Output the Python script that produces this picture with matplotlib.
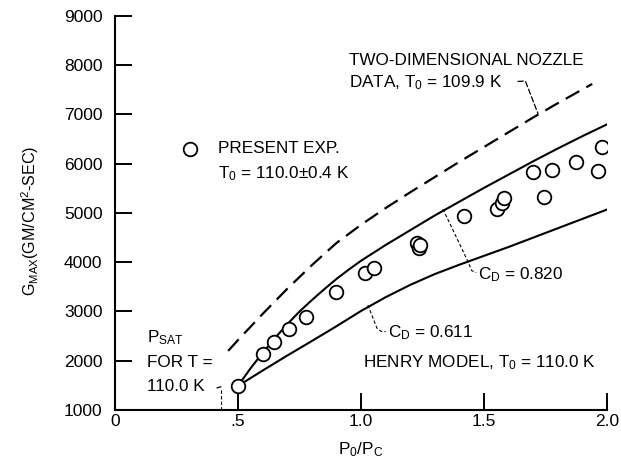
import matplotlib
matplotlib.use('Agg')
import matplotlib.pyplot as plt

plt.rcParams['font.family'] = ['Liberation Sans', 'DejaVu Sans']
plt.rcParams['mathtext.fontset'] = 'custom'
plt.rcParams['mathtext.rm'] = 'Liberation Sans'
plt.rcParams['mathtext.default'] = 'regular'

# measured flow points (present experiment)
exp_pr = [0.50, 0.60, 0.647, 0.708, 0.777, 0.898, 1.016, 1.053, 1.227, 1.236, 1.24,
          1.419, 1.553, 1.573, 1.58, 1.70, 1.744, 1.776, 1.874, 1.963, 1.98]
exp_g = [1490, 2140, 2380, 2640, 2890, 3390, 3780, 3890, 4400, 4290, 4350,
         4940, 5080, 5210, 5300, 5830, 5320, 5870, 6030, 5850, 6340]

# Henry model, C_D = 0.820
henry_hi_pr = [0.5, 0.55, 0.6, 0.65, 0.7, 0.75, 0.8, 0.85, 0.9, 0.95, 1.0,
               1.1, 1.2, 1.3, 1.4, 1.5, 1.6, 1.7, 1.8, 1.9, 2.0]
henry_hi_g = [1490, 1840, 2160, 2460, 2740, 3000, 3230, 3450, 3660, 3850, 4030,
              4350, 4650, 4950, 5230, 5510, 5780, 6050, 6310, 6560, 6800]

# Henry model, C_D = 0.611
henry_lo_pr = [0.5, 0.6, 0.7, 0.8, 0.9, 1.0, 1.1, 1.2, 1.3, 1.4, 1.5,
               1.6, 1.7, 1.8, 1.9, 2.0]
henry_lo_g = [1490, 1800, 2105, 2400, 2700, 3010, 3290, 3540, 3760, 3950, 4130,
              4310, 4500, 4690, 4880, 5070]

# two-dimensional nozzle data
nozzle_pr = [0.46, 0.5, 0.6, 0.7, 0.8, 0.9, 1.0, 1.1, 1.2, 1.3, 1.4,
             1.5, 1.6, 1.7, 1.8, 1.94]
nozzle_g = [2200, 2420, 2950, 3460, 3940, 4390, 4760, 5100, 5420, 5730, 6040,
            6340, 6640, 6940, 7230, 7620]

xticks = [0, 0.5, 1.0, 1.5, 2.0]
xtick_labels = ['0', '.5', '1.0', '1.5', '2.0']
yticks = [1000, 2000, 3000, 4000, 5000, 6000, 7000, 8000, 9000]

fig = plt.figure(figsize=(6.21, 4.66), dpi=100)
ax = fig.add_axes([0.1852, 0.1202, 0.7923, 0.8455])

ax.plot(henry_hi_pr, henry_hi_g, color='black', lw=1.5)
ax.plot(henry_lo_pr, henry_lo_g, color='black', lw=1.5)
ax.plot(nozzle_pr, nozzle_g, color='black', lw=1.6, linestyle=(0, (7, 3.6)))
ax.plot(exp_pr, exp_g, 'o', mfc='white', mec='black', mew=1.3, ms=9.8, zorder=5)

# leader lines
lead = dict(color='black', lw=0.8, linestyle=(0, (3, 2)))
ax.plot([1.333, 1.435, 1.45, 1.468], [5080, 4010, 3830, 3790], **lead)
ax.plot([1.028, 1.065, 1.08, 1.1], [3130, 2660, 2600, 2590], **lead)
ax.plot([1.636, 1.668, 1.72], [7670, 7680, 7010], color='black', lw=0.9,
        linestyle=(0, (5, 1.5)))
ax.plot([0.43, 0.43], [1000, 1440], **lead)
ax.plot([0.415, 0.43], [1450, 1470], color='black', lw=0.9)

fs = 12.3
ax.text(0.951, 8100, 'TWO-DIMENSIONAL NOZZLE', fontsize=fs, va='center')
ax.text(0.951, 7640, 'DATA, T$_0$ = 109.9 K', fontsize=fs, va='center')

ax.plot([0.305], [6290], 'o', mfc='white', mec='black', mew=1.3, ms=9.8)
ax.text(0.419, 6300, 'PRESENT EXP.', fontsize=fs, va='center')
ax.text(0.419, 5800, 'T$_0$ = 110.0±0.4 K', fontsize=fs, va='center')

ax.text(1.476, 3740, 'C$_D$ = 0.820', fontsize=fs, va='center')
ax.text(1.11, 2580, 'C$_D$ = 0.611', fontsize=fs, va='center')
ax.text(1.008, 1960, 'HENRY MODEL, T$_0$ = 110.0 K', fontsize=fs, va='center')

ax.text(0.13, 2460, 'P$_{SAT}$', fontsize=fs, va='center')
ax.text(0.13, 1960, 'FOR T =', fontsize=fs, va='center')
ax.text(0.13, 1470, '110.0 K', fontsize=fs, va='center')

ax.set_xlim(0, 2.0)
ax.set_ylim(1000, 9000)
ax.set_xticks(xticks)
ax.set_xticklabels(xtick_labels)
ax.set_yticks(yticks)
ax.tick_params(direction='in', length=12, width=1.4, labelsize=12.5)
ax.tick_params(axis='x', pad=3)
ax.tick_params(axis='y', pad=9)
for side in ['top', 'right']:
    ax.spines[side].set_visible(False)
for side in ['left', 'bottom']:
    ax.spines[side].set_linewidth(1.5)

ax.set_xlabel('P$_0$/P$_C$', fontsize=fs, labelpad=8)
ax.set_ylabel('G$_{MAX}$(GM/CM$^2$-SEC)', fontsize=11.6, labelpad=15)
ax.yaxis.set_label_coords(-0.15, 0.48)

fig.savefig('out.png', dpi=100)
